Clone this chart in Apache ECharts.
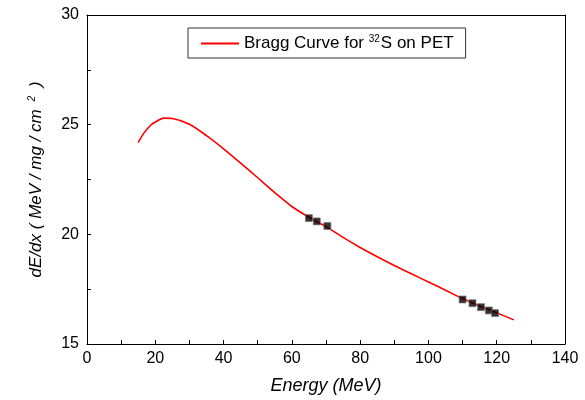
<!DOCTYPE html>
<html>
<head>
<meta charset="utf-8">
<script src="https://cdn.jsdelivr.net/npm/echarts@6/dist/echarts.min.js"></script>
<style>
  html, body { margin: 0; padding: 0; background: #fff; }
  #chart { width: 585px; height: 400px; }
</style>
</head>
<body>
<div id="chart"></div>
<script>
// Bragg curve (energy in MeV, dE/dx in MeV/mg/cm2)
var curveEnergy = [15, 16.5, 18.5, 20, 22.5, 25, 30, 35, 40, 45, 50, 55, 60, 65, 70, 75, 80, 85, 90, 95, 100, 105, 110, 115, 120, 125];
var curveDedx = [24.18, 24.58, 24.95, 25.12, 25.3, 25.28, 25.02, 24.5, 23.9, 23.25, 22.58, 21.9, 21.27, 20.78, 20.35, 19.86, 19.4, 18.98, 18.58, 18.2, 17.83, 17.45, 17.07, 16.73, 16.42, 16.1];
// measured points
var pointEnergy = [65, 67.3, 70.4, 110, 112.9, 115.4, 117.7, 119.5];
var pointDedx = [20.74, 20.59, 20.38, 17.03, 16.86, 16.68, 16.53, 16.41];

var font = "'Liberation Sans', Arial, sans-serif";

var curve = curveEnergy.map(function (e, i) { return [e, curveDedx[i]]; });
var points = pointEnergy.map(function (e, i) { return [e, pointDedx[i]]; });

var chart = echarts.init(document.getElementById("chart"));
var option = {
  animation: false,
  backgroundColor: "#fff",
  grid: { left: 87, right: 20, top: 15, bottom: 53 },
  legend: {
    data: ["curve"],
    left: 188,
    top: 28,
    padding: [6, 12, 6, 13],
    borderColor: "#333",
    borderWidth: 1,
    itemWidth: 38,
    itemHeight: 2,
    icon: "rect",
    itemGap: 6,
    formatter: function () {
      return "{a|Bragg Curve for }{s|32}{a|S on PET}";
    },
    textStyle: {
      rich: {
        a: { fontFamily: font, fontSize: 17, color: "#000" },
        s: { fontFamily: font, fontSize: 10, color: "#000", verticalAlign: "top", padding: [0, 1, 9, 0] }
      }
    }
  },
  xAxis: [
    {
      type: "value",
      min: 0,
      max: 140,
      interval: 10,
      name: "Energy (MeV)",
      nameLocation: "middle",
      nameGap: 33,
      nameTextStyle: { fontFamily: font, fontSize: 18, fontStyle: "italic", color: "#000" },
      axisLine: { lineStyle: { color: "#000", width: 1 } },
      axisTick: { inside: true, length: 4, lineStyle: { color: "#000" } },
      axisLabel: {
        fontFamily: font, fontSize: 16, color: "#000", margin: 7,
        formatter: function (v) { return v % 20 === 0 ? String(v) : ""; }
      },
      splitLine: { show: false }
    },
    {
      type: "value",
      position: "top",
      min: 0,
      max: 140,
      axisLine: { show: true, onZero: false, lineStyle: { color: "#000", width: 1 } },
      axisTick: { show: false },
      axisLabel: { show: false },
      splitLine: { show: false }
    }
  ],
  yAxis: [
    {
      type: "value",
      min: 15,
      max: 30,
      interval: 2.5,
      name: "{a|dE/dx ( MeV / mg / cm }{s|2}{a| )}",
      nameLocation: "middle",
      nameGap: 41,
      nameTextStyle: {
        rich: {
          a: { fontFamily: font, fontSize: 17, fontStyle: "italic", color: "#000" },
          s: { fontFamily: font, fontSize: 10, fontStyle: "italic", color: "#000", verticalAlign: "top", padding: [0, 4, 9, 3] }
        }
      },
      axisLine: { show: true, lineStyle: { color: "#000", width: 1 } },
      axisTick: { inside: true, length: 4, lineStyle: { color: "#000" } },
      axisLabel: {
        fontFamily: font, fontSize: 16, color: "#000", margin: 8,
        formatter: function (v) { return v % 5 === 0 ? String(v) : ""; }
      },
      splitLine: { show: false }
    },
    {
      type: "value",
      position: "right",
      min: 15,
      max: 30,
      axisLine: { show: true, onZero: false, lineStyle: { color: "#000", width: 1 } },
      axisTick: { show: false },
      axisLabel: { show: false },
      splitLine: { show: false }
    }
  ],
  series: [
    {
      name: "curve",
      type: "line",
      data: curve,
      smooth: 0.3,
      showSymbol: false,
      lineStyle: { color: "#ff0000", width: 1.6 },
      itemStyle: { color: "#ff0000" },
      z: 2
    },
    {
      name: "points",
      type: "scatter",
      data: points,
      symbol: "rect",
      symbolSize: 7,
      itemStyle: { color: "#000", borderColor: "#777", borderWidth: 0.8 },
      z: 3
    }
  ]
};
chart.setOption(option);
</script>
</body>
</html>
